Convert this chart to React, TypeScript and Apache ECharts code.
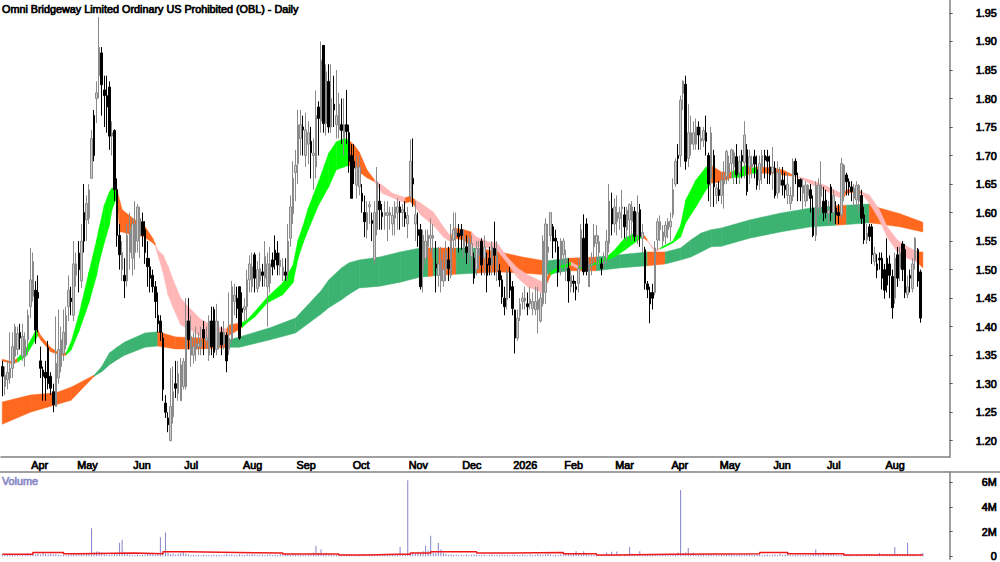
import React, { useEffect, useRef } from "react";
import * as echarts from "echarts";

const TITLE = "Omni Bridgeway Limited Ordinary US Prohibited (OBL) - Daily";
const monthIndex = [11, 29, 51, 71, 94, 115, 137, 159, 180, 200, 220, 240, 262, 281, 302, 323, 346];
const monthLabels = ["Apr", "May", "Jun", "Jul", "Aug", "Sep", "Oct", "Nov", "Dec", "2026", "Feb", "Mar", "Apr", "May", "Jun", "Jul", "Aug"];
const priceTicks = [1.2, 1.25, 1.3, 1.35, 1.4, 1.45, 1.5, 1.55, 1.6, 1.65, 1.7, 1.75, 1.8, 1.85, 1.9, 1.95];
const volumeTicks = [0, 2000000, 4000000, 6000000];

// [open, close, low, high] in cents
const candlesA = [
  [133,131.3,127.8,134],[129.5,131.5,128,133],[130.7,132,129,134],[131,132.7,130,139],[132.7,136.5,131,139],[134.8,140,133.5,140.5],[136,138.8,135,140],[139,138,136,140.5],[134.8,138.3,134,140.5],[134.8,137.7,133,139],
  [137.7,142,135,143],[143.5,148.2,141.5,153.8],[145.3,151.4,144.4,153],[146.4,139.4,137,148],[146,145,139,149],[134,132.7,131,136.5],[132.4,131.3,127,133],[132,131,127,134],[136.3,130,129,137.5],[131.3,129.2,128,132],
  [128.6,126.3,125,130],[126,133.6,126,141.8],[131,136,130,143],[133,137.7,132,140],[135.3,139,134,143],[136.8,142,136,143.5],[143.5,146.4,141,149],[145,144.4,142,147],[142,151,141,155],[149,151,147,153],
  [152.9,150,146,155],[148,155,146.8,158],[160,155,153,165],[158.7,161.6,155,163],[159,164,158,165],[166,173,166,174.5],[177,170,169,178],[180,181,175.7,183],[184,189,180,194.3],[188,182.4,177,189],
  [181.5,180.5,175,184],[180.5,178.5,174,184],[182,173.4,171,183],[173.4,174,170,176],[174.4,164,162,174.6],[164,156,154,166],[156,152.6,150,158],[150,153,148,155],[149,148,145,152],[148,156,147,158],
  [153,157,150,160],[152,158,149,159],[153,158,150,162],[155,161,153,161.5],[156,159,152,161],[158.4,156,154,160],[157,153,151,158.5],[152,150.5,147,155],[150.5,148.5,146,152],[149,147,146,150],
];
const candlesB = [
  [147,144.4,141.5,148],[142,140.5,139,146],[141,139,137.5,142],[138,129,127,139],[126.6,125,124,128],[124,122.8,121.5,125],[120,126,120,132.7],[124.2,128.6,123,133],[130,129.2,127.5,134],[128.3,131.8,127,134],
  [127,133.3,127,134.5],[129.5,133.9,129,134.5],[129.5,141,129,145],[141,137.7,136,145],[135,138.3,133,142],[135,136.5,133.5,139],[136,137,134,140],[136.5,137,135,139],[136.5,137.5,135,140],[139.5,138,135,141],
  [137.5,138,136,140],[135,141,134,142],[141,136.5,135,143.5],[143,135.5,134.5,143.5],[136,141,135,144],[136.5,139,136,141],[139,136.8,135,140],[137,139,136,141],[138.5,134,132,139],[136,138,135,146],
  [137.7,147,137,148],[144.4,145.5,142,147.5],[145,143.2,141.5,147],[147,138,137.7,147],[143.2,142.5,140,146],[143,143.5,141,145],[143.5,148.2,141,150],[148.2,151,146,152.5],[147,150.5,146,153],[152.6,148.5,146,153],
  [146.7,150,146,151.5],[148,150.2,147,153],[149.6,149,147,151],[148.5,152.3,147,155],[147,151,140,153],[147.6,151,146,154],[151.7,150.5,149,153],[153.4,151.7,150,156],[152.9,150.8,149,155],[150.5,151.7,149,153],
  [149,150.5,148,152],[149.6,149,148,152],[149.6,155,148,158],[155.5,161,154,163],[159.8,166,158,169],[167,168.3,162,171],[168.6,175.4,165,178],[173,175.4,170,178],[175,174.5,170,177],[170,174.5,168,177.5],
  [172,174,168.5,176],[172.5,170.5,166,175],[170,170.4,164,173],[168,177,166,181.4],[178.5,176.5,170,179.5],[176,186.7,174,190],[189.3,175.6,174,189.4],[175.6,184.7,173.5,186],[183,175,174,186],[175,180,174,186],
];
const candlesC = [
  [179,178,175,184],[175.4,177,173,185],[174.5,179,173,181],[175.4,174.4,172,180],[173,175.4,170,180],[175.4,174.2,172,181.5],[174,169,167,175.4],[170,162.5,162.5,172],[169,167.8,165,172],[164.8,168,162.5,170],
  [164.5,168,163,170],[163.4,162,160,165],[160,158.4,155.7,163],[157,160,155.5,162],[161,161.4,158,162],[158.6,158.1,155,160],[151.7,160,151,162],[157,165.4,156,168],[162,160.5,157,165],[160,159.3,157,161.5],
  [159.5,160,157,162],[159.5,160,155,162],[159.5,160,157,161],[158,159.5,156,161],[159,161,156,162],[160,161,157,162.5],[161,160,157,162],[160,160.5,157.5,161.5],[160,159,157.5,162],[158,159.5,155.5,161],
  [162.8,169,162,172.8],[166,165,161,173],[158,159.6,155,162],[157,156,154,160],[157,147,146.5,158],[150,156,146,157],[152,155,151,157],[154,156,152,157],[155.5,156,153,159],[155.5,156,152,158],
  [151,150.3,146,155],[149,151,147,154],[148,151.7,146,154],[148,150,147,153],[150,153.4,148,155],[151.7,150.2,148,154],[149,155.5,148.5,158],[155.2,157,153,160],[156,157,154,160],[156.4,155.8,153,158],
  [157,156,153.5,158],[154,155.5,152,157],[154,153,151,156],[153,155.5,151,156],[152.3,154.6,150,156],[152,148.5,147.5,153],[150,153.7,149,155],[152.5,153.7,150,155],[155,150.8,149,155.5],[152,154,149,156],
];
const candlesD = [
  [151,149,146,153],[152,150.8,149,154],[150.8,154,149,155],[153.7,152.5,149,158.4],[150,152.6,148,155],[149.8,148.2,147,151],[148.2,145.2,144,149],[145,143.5,142,147],[144.7,149.6,143,150],[149.6,146.4,145,150.5],
  [147,143.2,142,148],[142.9,138,135.3,143],[138,141.5,137.5,143],[142,144,141,145],[144.4,145,143,146],[144.5,145,143,147],[144,143.5,142,146],[144,144.8,143,147],[143.2,144.4,142,146],[143,144.4,142,147],
  [143,144.7,138.8,147],[141,145,140.7,146],[144,155,143.5,156],[146,158,144,159],[153,154,151,158],[156,160,155,160],[157.5,155,152,158],[155.5,155,153,157],[154,149.6,147,155],[151.7,155,149,155.5],
  [152.6,155,151,155.5],[151,152,148,153.5],[150.2,148,144.2,152],[147,149,146,150],[148,147.6,146,149],[147,146.5,144.6,148],[147.6,150.2,146,152],[150.5,157,150,158],[155.5,149.6,149,159.7],[158,149.7,149,159],
  [147,151,147,152],[150.8,151,149,153],[154,156,151,158],[154.6,156,151,157.8],[153,154.9,151,156],[151,150.2,149,152],[151,151.7,150,153],[152,155,151,157],[154.6,162,153,165],[160.7,158,156,163.5],
  [158,161,156.5,162.5],[158.4,160,156,163],[159,160,157,161],[160.7,161,155.5,164],[159.6,157.5,155.5,161],[157,160.4,155,161],[158.7,161.4,155.5,161.6],[158.4,161,155,162],[160.2,155.8,155,161],[156,160,154.5,163],
];
const candlesE = [
  [160.5,155.8,154,161.5],[155.5,156.5,153,158],[153.5,147.6,146.5,154],[147.5,146.5,145,148],[146,144,140.6,147],[146,145,143,147.5],[146,153.8,145.5,155],[155.2,158.4,153.5,159],[157,158.4,155,159.5],[155,156.6,154,157.8],
  [155.8,157.8,154.5,158.5],[157,158.4,155.5,159],[157.5,158.5,155,160],[159.6,164,159,166],[165,169,164.5,169.5],[170,169.5,165,172],[170,179.7,168,180.5],[180.9,183,178,183.2],[182.5,169,167.5,184],[169.5,174,168,179],
  [172,174,170,177],[172,174,171,176],[172,175,171,176.5],[175,173.6,171,176],[172.5,173,171,175],[172.7,174.4,171.5,175],[174,172.5,170,177],[170,165,162,170.5],[166,174,161,175],[170,164.5,161,171],
  [163,164.3,161.5,165],[164,163,162,165.5],[163,165.7,161.5,167],[165,166.3,160.7,169],[166.3,170.7,165,171],[167,168.6,165.5,170],[168.6,171,166,171.2],[168,170.5,165,171],[169.8,166.6,165,172],[167,169,165,170],
  [170,169,166,171],[168.7,173.6,166,176],[171,163.7,163,172],[168,169.8,165,171],[168,168.5,166,170],[169.8,168.5,166,171],[167.5,164.8,164,170],[165.7,168.6,164,170],[168,170,165,171],[170,169.2,166,171],
];
const candlesF = [
  [169.8,169,165,171],[168,166.6,165,170],[167,168,164,171.5],[167.8,163,162.5,169],[163.4,167,162.5,169],[164.8,167,163.5,168],[165.7,164.8,163,168],[164.8,164,162.5,167],[163,165,161.5,167],[161.6,163,160.5,164.5],
  [162.8,169,162,169.5],[169,166.6,165,169.5],[165.8,164.5,162,167],[165.8,164.5,162,166],[163.4,164.8,160.5,166],[162,164.8,161,165.5],[163,164.8,162,165],[164,162.5,160,165],[160.8,156,155.7,163],[156,164.8,155,165.5],
  [160.8,164.8,159.5,166],[162.8,164.8,160,169],[162,160,158.5,164.5],[162.2,160,159,164],[159.8,160.4,158,162],[164.5,160,158.5,165],[160,163,158,164],[160.8,159.6,158,162],[160,159.5,158,161.5],[159.6,168.6,159,169.6],
  [163.4,168.3,162,168.5],[166.6,165.4,163,167],[165.4,164.5,163,166],[164.5,163.7,162,165.5],[162.5,164.3,161,165],[162.2,164.8,161,165.5],[162,164.8,160,165],[163,159,158,164],[159.6,155.2,154.5,161],[155.2,156.4,154.5,158],
  [157.5,155.8,155,158],[157.5,152.6,151,158],[151.4,152.9,150.7,154],[151,149.9,148.5,152.7],[152,151.7,150,153],[152,148.5,146.5,153],[150,146.4,144.9,151],[152,147.3,146,155.5],[151,149,145,152.5],[148.8,143.3,141.4,150],
  [145,152,144,153],[152.6,148.5,147,154],[150.2,152.9,148,154],[154.5,150,148,155],[153.5,146,145,154.5],[145.6,147,145,149],[149,148.5,146,150],[146.7,151,146,152],[151.7,155.5,150,155.7],[153.5,148,147,153.8],[149.6,141.5,140.7,150],
];

// tens of thousands of shares
const volumeA = [12,15,10,18,14,12,16,15,10,14,25,17,24,14,22,13,30,20,15,22,15,18,12,10,9,8,12,14,20,16,18,25,15,22,20,226,30,38,35,30,20,14,12,16,18,25,108,134,35,28,16,12,10,14,9,12,15,18,22,15,14,25,153,30,193,28,18,22,14,20,28,35,20,14,10,12,9,11,10,13,12,9,8,14,10,12,8,11,20,12,14,9,10,16,12,10,15,12,18,14];
const volumeB = [9,11,14,10,12,16,9,13,10,18,12,20,15,10,22,12,14,16,10,12,14,18,30,85,25,55,22,28,16,14,10,12,9,10,14,11,16,9,8,10,12,9,14,10,13,16,12,11,15,14,16,18,20,15,12,18,75,20,14,617,25,30,22,35,28,40,85,45,165,30,25,107,55,25,18,12,16,10,14,9,12,10,14,9,11,15,12,9,10,13,8,11,14,10,12,9,13,10,11,8];
const volumeC = [12,14,10,9,13,11,8,15,10,12,18,14,12,16,20,14,10,12,9,15,14,18,25,15,20,40,18,15,40,22,14,12,9,10,8,11,9,30,14,35,12,38,14,10,9,16,74,20,14,12,40,18,14,10,12,15,12,9,14,10,12,9,15,18,14,30,538,25,30,66,22,28,18,14,16,20,12,18,14,16,15,12,18,14,20,22,18,15,12,20,16,14,22,18,14,12,16,14,10,12];
const volumeD = [14,9,12,15,10,20,12,14,18,10,9,12,14,8,11,10,12,14,25,55,20,14,30,18,16,22,25,14,10,9,18,14,10,12,9,11,14,10,12,9,18,12,10,14,25,12,10,14,12,16,74,18,14,10,12,108,16,12,14,10,20,25];

// average-volume step line: candle index, tens of thousands of shares
const avgVolIndex = [0,8,12,24,29,52,63,73,92,110,132,143,155,160,168,186,200,220,233,241,262,297,308,330,361];
const avgVolValue = [15,15,30,20,25,20,35,30,25,18,10,15,15,25,35,25,30,20,10,15,20,30,20,10,10];

// tone: 0 sea green, 1 orange, 2 bright green, 3 pink; a tone colours the stretch that ends at its vertex
const longIndex = [0,11,21,27,36,39,42,45,48,56,61,68,78,89,93,105,115,125,128,133,136,140,148,156,164,167,169,171,178,186,195,204,213,222,233,242,253,260,266,270,274,278,282,293,305,317,327,331,340,344,352,361];
const longTop = [126.8,128,128.4,129.4,131.5,133,135.4,136.4,137.3,138.9,139.1,138.2,138,137.7,138.2,139.8,141.5,146.3,148.2,150.3,151.2,151.7,152.2,153.1,153.8,153.8,153.8,153.8,153.8,153.8,153.1,152.2,151.5,152,152.2,152.6,153.1,153.1,153.8,155.2,156.4,157,157.3,158.7,159.9,160.8,161.2,161.3,161.5,160.8,159.8,158.3];
const longBottom = [122.9,125,126.3,127.1,131.3,132.1,133.3,134.2,135,136.4,136.6,136.1,136.1,136.4,136.4,137.7,138.9,142.2,143.3,144.7,145.7,146.8,147.1,147.8,148.7,148.8,148.9,149,149.2,149.4,149.6,149.4,149.1,149.8,149.8,150.3,150.7,151,151.7,152.2,153.1,154,154.1,155.5,156.6,157.5,157.8,157.9,158.2,158,157.5,156.6];
const longTone = [1,1,1,1,1,0,0,0,0,0,0,1,1,1,0,0,0,0,0,0,0,0,0,0,0,0,1,0,1,0,1,1,1,0,1,0,0,1,0,0,0,0,0,0,0,0,0,1,0,1,1,1];

const shortIndex = [0,4,6,9,13,14,15,19,23,25,27,30,34,37,38,40,42,43,45,46,47,53,55,59,60,61,63,65,67,70,74,78,84,88,89,94,96,99,104,110,114,116,118,120,124,128,131,134,136,138,140,143,146,149,153,158,160,162,164,169,173,176,177,181,184,186,191,194,198,202,206,212,215,219,223,226,229,233,237,240,244,248,251,253,256,258,260,263,266,268,272,276,278,279,282,286,289,292,294,296,298,302,306,310,313,317,323,328,330,331,335,337,340,344,347,351,355,359,361];
const shortTop = [134.3,133.8,134.5,135.9,139.2,139.4,138.5,136.3,135.2,135.4,137.3,142,149.6,155.2,157.3,161.3,163.6,164.3,164.1,162.2,160.5,158.4,158.2,155.5,154.5,153.4,152.6,150.6,148.2,145,143,141.2,140,139.6,140.3,140.7,141.2,142.6,145.2,147.7,150.8,155.2,157.8,160.8,165.4,170.4,172.4,173,172.7,171.8,170.6,167.5,165.7,164.8,163.4,162.6,162.9,162.2,161.7,160.1,157.5,155.7,157.3,157,156.6,155.7,154.8,154.7,152.2,150.3,149.1,147.8,149.6,150.6,151.3,150.6,150.6,151.3,152.2,153.4,155.5,156.4,156.4,155.2,153.4,153.8,154.3,155,157.8,162.2,165.7,168,168.3,168,167.1,167.1,167.8,168.3,167.8,168,168,167.8,167.5,166.6,166.2,165.7,164.7,163.6,163.1,164,164.1,163.6,163.1,160.5,157.5,155.2,154,153.1,153.1];
const shortBottom = [134,133.5,133.8,134.7,137.7,138.5,137.7,135.6,135,135,135.9,139.1,144.2,149,151.3,154.7,157.8,160.5,162.8,156.6,156.6,155.8,155.9,154.7,154.2,152.6,149.6,145.6,143.3,140.3,139.4,138.2,137.7,138.5,138.5,139.8,140.7,141.7,144.2,145.6,147.7,152,154.7,157,161.3,164.5,167.5,168,168.3,168,167.1,166.1,165.4,163.4,162.6,161.7,161.9,161,159.6,157.8,155.7,154.8,155.5,155.2,154,154,153.8,153.4,151.2,148.6,147,145.9,149,150.3,150.8,150.1,150.3,151,151.7,152.2,153.4,154.7,155.7,155,153.1,153.6,154,154.7,155.7,158.2,161,164,165.2,165.2,165.4,166.1,166.2,166.6,166.9,166.9,166.9,166.9,166.6,166.4,166,165,163.8,162.7,162.7,163.4,163.6,163.3,161.7,158.7,155.7,153.1,152,151.2,150.3];
const shortTone = [1,1,1,2,2,2,1,1,1,1,2,2,2,2,2,2,2,2,2,1,1,1,1,1,1,3,3,3,3,3,3,3,3,3,1,1,2,2,2,2,2,2,2,2,2,2,2,2,2,1,1,1,1,3,3,3,1,1,3,3,3,3,1,1,1,3,3,3,3,3,3,3,1,2,2,3,2,2,2,2,2,2,2,1,3,3,2,2,2,2,2,2,2,1,1,1,2,2,1,2,1,1,1,1,3,3,3,3,3,1,1,1,3,3,3,3,3,3,1];

const toneColors = ["#3CB371", "#FF681F", "#00FF00", "#FFB6B6"];
const candles = [...candlesA, ...candlesB, ...candlesC, ...candlesD, ...candlesE, ...candlesF];
const volume = [...volumeA, ...volumeB, ...volumeC, ...volumeD];
const categoryCount = 372;
const categories = Array.from({ length: categoryCount }, (_, i) => {
  const at = monthIndex.indexOf(i);
  return at >= 0 ? monthLabels[at] : "";
});

function bandRows(index: number[], top: number[], bottom: number[], tone: number[]) {
  const rows: number[][] = [];
  for (let i = 1; i < index.length; i++) {
    rows.push([index[i - 1], top[i - 1] / 100, bottom[i - 1] / 100, index[i], top[i] / 100, bottom[i] / 100, tone[i]]);
  }
  return rows;
}

function bandSeries(name: string, rows: number[][], z: number) {
  return {
    type: "custom", name, xAxisIndex: 0, yAxisIndex: 0, z, silent: true, clip: true,
    data: rows,
    encode: { x: [0, 3], y: [1, 2, 4, 5] },
    renderItem: (_: any, api: any) => {
      const a = api.coord([api.value(0), api.value(1)]);
      const b = api.coord([api.value(3), api.value(4)]);
      const c = api.coord([api.value(3), api.value(5)]);
      const d = api.coord([api.value(0), api.value(2)]);
      const color = toneColors[api.value(6)];
      return { type: "polygon", shape: { points: [a, b, c, d] }, style: { fill: color, stroke: color, lineWidth: 0.5 } };
    },
  };
}

const FONT = "'Liberation Sans', Arial, sans-serif";
const AXIS = "#808080";
const labelStyle = { color: "#000", fontFamily: FONT, fontSize: 10.8, fontWeight: "normal" as const, textBorderColor: "#000", textBorderWidth: 0.7 };

export default function App() {
  const ref = useRef<HTMLDivElement>(null);
  useEffect(() => {
    const chart = echarts.init(ref.current!, undefined, { renderer: "svg" });
    chart.setOption({
      animation: false,
      backgroundColor: "#fff",
      title: [
        { text: TITLE, left: 2, top: 3, padding: 0, textStyle: { ...labelStyle } },
        { text: "Volume", left: 2, top: 475, padding: 0, textStyle: { ...labelStyle, color: "#8A8AC8", textBorderColor: "#8A8AC8" } },
      ],
      grid: [
        { left: 1, width: 950, top: 0, height: 457 },
        { left: 1, width: 950, top: 472, height: 90 },
      ],
      xAxis: [
        {
          type: "category", gridIndex: 0, data: categories, boundaryGap: true,
          axisLine: { lineStyle: { color: AXIS, width: 1.5 } },
          axisTick: { alignWithLabel: true, length: 2, interval: (i: number) => monthIndex.includes(i), lineStyle: { color: "#444" } },
          axisLabel: { ...labelStyle, align: "left", margin: 2, padding: [0, 0, 0, 1], interval: (i: number) => monthIndex.includes(i) },
        },
        {
          type: "category", gridIndex: 1, data: categories, boundaryGap: true, show: false,
        },
      ],
      yAxis: [
        {
          type: "value", gridIndex: 0, position: "right", min: 1.1715, max: 1.9727, scale: true, splitLine: { show: false },
          axisLine: { show: true, lineStyle: { color: AXIS, width: 1.5 } },
          axisTick: { show: true, length: 3, customValues: priceTicks, lineStyle: { color: "#555" } },
          axisLabel: { ...labelStyle, align: "right", margin: 47, customValues: priceTicks, formatter: (v: number) => v.toFixed(2) },
        },
        {
          type: "value", gridIndex: 1, position: "right", min: -260000, max: 6840000, splitLine: { show: false },
          axisLine: { show: true, lineStyle: { color: AXIS, width: 1.5 } },
          axisTick: { show: true, length: 3, customValues: volumeTicks, lineStyle: { color: "#555" } },
          axisLabel: { ...labelStyle, align: "right", margin: 47, customValues: volumeTicks, formatter: (v: number) => (v === 0 ? "0" : v / 1000000 + "M") },
        },
      ],
      series: [
        bandSeries("Long band", bandRows(longIndex, longTop, longBottom, longTone), 1),
        bandSeries("Short band", bandRows(shortIndex, shortTop, shortBottom, shortTone), 2),
        {
          type: "candlestick", name: "Price", xAxisIndex: 0, yAxisIndex: 0, z: 3, barWidth: 2, silent: true,
          data: candles.map((r) => r.map((v) => v / 100)),
          itemStyle: { color: "#CFCFCF", borderColor: "#8A8A8A", color0: "#000", borderColor0: "#000", borderWidth: 1 },
        },
        {
          type: "bar", name: "Volume", xAxisIndex: 1, yAxisIndex: 1, barWidth: 1, z: 1, silent: true,
          data: volume.map((v) => v * 10000),
          itemStyle: { color: "#8484CC" },
        },
        {
          type: "line", name: "Average volume", xAxisIndex: 1, yAxisIndex: 1, z: 2, silent: true, showSymbol: false, step: "end",
          data: avgVolIndex.map((i, k) => [i, avgVolValue[k] * 10000]),
          lineStyle: { color: "#F01818", width: 1.5 },
        },
      ],
      graphic: [
        { type: "line", shape: { x1: 0, y1: 472, x2: 1000, y2: 472 }, style: { stroke: AXIS, lineWidth: 1.5 } },
      ],
    });
    return () => chart.dispose();
  }, []);
  return <div ref={ref} style={{ position: "absolute", left: 0, top: 0, width: 1000, height: 562 }} />;
}
